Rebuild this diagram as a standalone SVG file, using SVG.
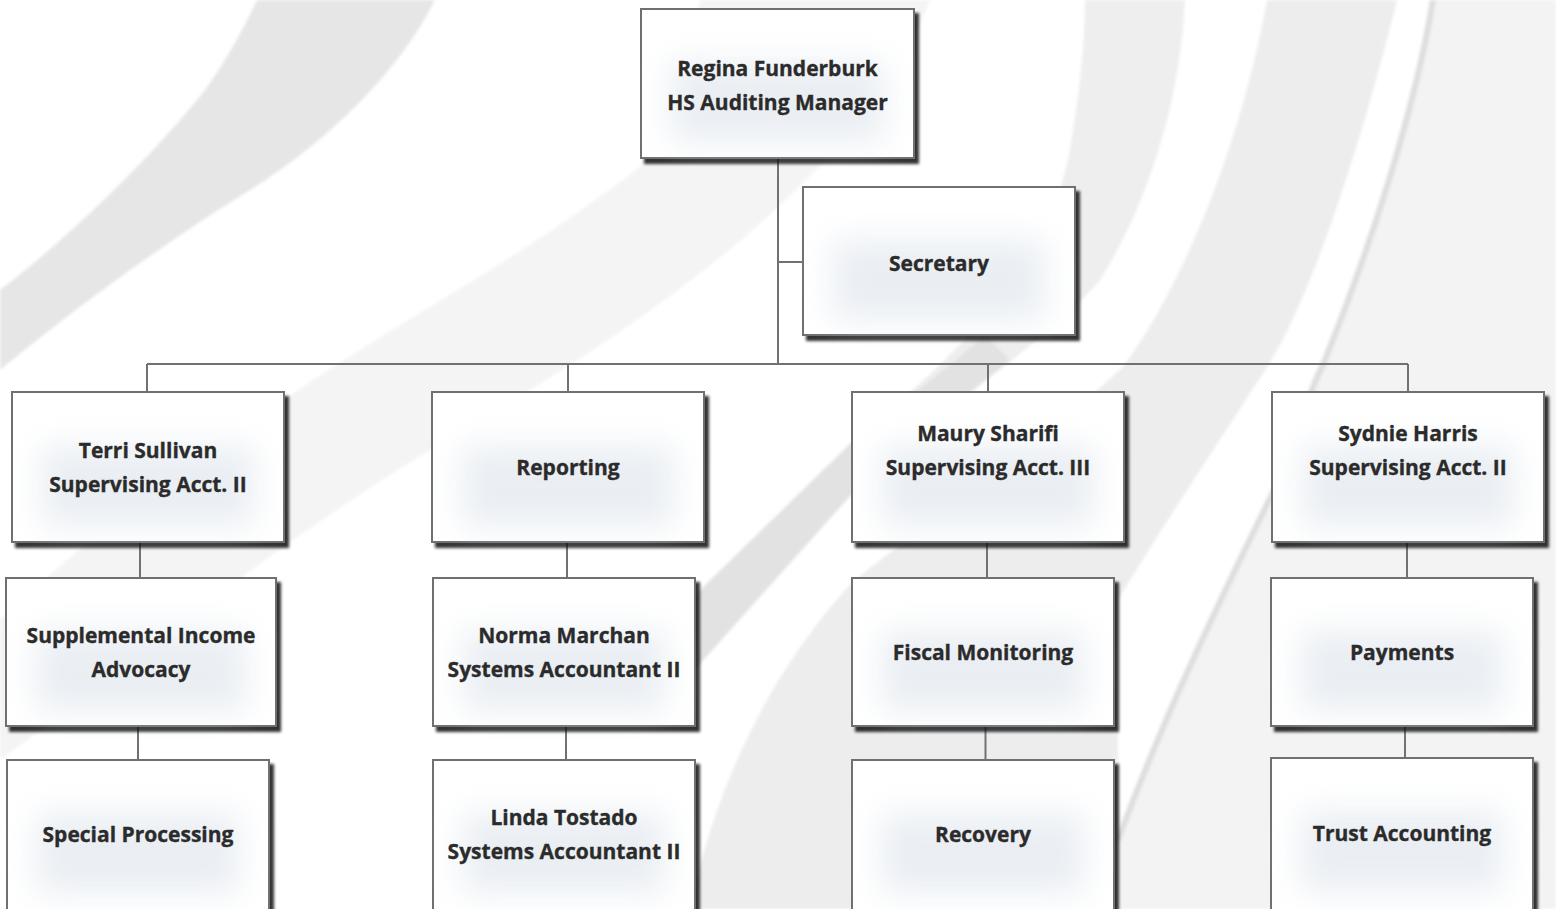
<svg xmlns="http://www.w3.org/2000/svg" width="1556" height="909" viewBox="0 0 1556 909">
<style>
.box{fill:#ffffff;stroke:#6f6f6f;stroke-width:2;filter:url(#shadow)}
.glow{fill:#dce3eb;opacity:0.6;filter:url(#blur)}
.lbl{font-family:"Open Sans","Noto Sans","DejaVu Sans",sans-serif;font-weight:bold;font-size:21px;fill:#2b2b2b;stroke:#2b2b2b;stroke-width:0.35;text-anchor:middle}
.conn{stroke:#717171;stroke-width:2;fill:none}
</style>
<defs>
<filter id="shadow" x="-10%" y="-10%" width="125%" height="125%">
<feDropShadow dx="4" dy="5" stdDeviation="1.8" flood-color="#000000" flood-opacity="0.8"/>
</filter>
<filter id="blur" x="-50%" y="-50%" width="200%" height="200%">
<feGaussianBlur stdDeviation="16"/>
</filter>
<filter id="soft" x="-10%" y="-10%" width="120%" height="120%">
<feGaussianBlur stdDeviation="1.5"/>
</filter>
</defs>
<rect x="0" y="0" width="1556" height="909" fill="#ffffff"/>
<g id="background" filter="url(#soft)">
<path d="M1433,0 L1556,0 L1556,909 L1060,909 L1118,840 C1170,700 1230,580 1280,478 C1300,420 1315,380 1322,367 C1370,250 1415,110 1433,0 Z" fill="#f3f3f3"/>
<path d="M1267,0 L1397,0 C1360,150 1310,300 1267,367 C1220,440 1160,530 1118,600 L1118,840 L1060,909 L690,909 C720,760 790,650 850,585 C900,540 1000,480 1123,367 C1180,290 1240,150 1267,0 Z" fill="#ededed"/>
<path d="M1118,840 C1170,700 1230,580 1280,478 C1300,420 1315,380 1322,367 C1370,250 1415,110 1433,0" fill="none" stroke="#dedede" stroke-width="6"/>
<path d="M700,0 L930,0 C850,200 600,350 430,450 C250,560 110,680 0,760 L0,620 C60,560 180,470 294,393 C400,320 520,260 640,167 C660,140 680,80 700,0 Z" fill="#f4f4f4"/>
<path d="M1085,0 L1185,0 C1180,100 1150,200 1100,280 C1050,340 950,400 850,496 L690,675 L690,600 L850,444 C1000,320 1050,250 1070,150 C1080,90 1085,40 1085,0 Z" fill="#eeeeee"/>
<path d="M690,675 L850,496 C900,450 960,400 1010,360 L985,335 C940,375 890,410 850,444 L690,600 Z" fill="#e2e2e2"/>
<path d="M257,0 L435,0 C400,70 330,140 250,190 C160,245 60,320 0,370 L0,290 C60,245 150,160 205,90 C230,55 245,25 257,0 Z" fill="#e6e6e6"/>
</g>
<g id="connectors" class="conn">
<path d="M778,158 V364"/>
<path d="M778,262 H803"/>
<path d="M147,364 H1408"/>
<path d="M147,364 V392"/>
<path d="M568,364 V392"/>
<path d="M988,364 V392"/>
<path d="M1408,364 V392"/>
<path d="M140,542 V578"/>
<path d="M138,726 V760"/>
<path d="M567,542 V578"/>
<path d="M566,726 V760"/>
<path d="M987,542 V578"/>
<path d="M985.5,726 V760"/>
<path d="M1407,542 V578"/>
<path d="M1405,727 V758"/>
</g>
<g id="regina">
<rect class="box" x="641" y="9" width="273" height="149"/>
<rect class="glow" x="671" y="62" width="213" height="80"/>
<text class="lbl" x="777.5" y="76">Regina Funderburk</text>
<text class="lbl" x="777.5" y="110">HS Auditing Manager</text>
</g>
<g id="secretary">
<rect class="box" x="803" y="187" width="272" height="148"/>
<rect class="glow" x="833" y="240" width="212" height="80"/>
<text class="lbl" x="939" y="271">Secretary</text>
</g>
<g id="terri">
<rect class="box" x="12" y="392" width="272" height="150"/>
<rect class="glow" x="42" y="446" width="212" height="80"/>
<text class="lbl" x="148" y="458">Terri Sullivan</text>
<text class="lbl" x="148" y="492">Supervising Acct. II</text>
</g>
<g id="reporting">
<rect class="box" x="432" y="392" width="272" height="150"/>
<rect class="glow" x="462" y="446" width="212" height="80"/>
<text class="lbl" x="568" y="475">Reporting</text>
</g>
<g id="maury">
<rect class="box" x="852" y="392" width="272" height="150"/>
<rect class="glow" x="882" y="446" width="212" height="80"/>
<text class="lbl" x="988" y="441">Maury Sharifi</text>
<text class="lbl" x="988" y="475">Supervising Acct. III</text>
</g>
<g id="sydnie">
<rect class="box" x="1272" y="392" width="272" height="150"/>
<rect class="glow" x="1302" y="446" width="212" height="80"/>
<text class="lbl" x="1408" y="441">Sydnie Harris</text>
<text class="lbl" x="1408" y="475">Supervising Acct. II</text>
</g>
<g id="supplemental">
<rect class="box" x="6" y="578" width="270" height="148"/>
<rect class="glow" x="36" y="631" width="210" height="80"/>
<text class="lbl" x="141" y="643">Supplemental Income</text>
<text class="lbl" x="141" y="677">Advocacy</text>
</g>
<g id="norma">
<rect class="box" x="433" y="578" width="262" height="148"/>
<rect class="glow" x="463" y="631" width="202" height="80"/>
<text class="lbl" x="564" y="643">Norma Marchan</text>
<text class="lbl" x="564" y="677">Systems Accountant II</text>
</g>
<g id="fiscal">
<rect class="box" x="852" y="578" width="262" height="148"/>
<rect class="glow" x="882" y="631" width="202" height="80"/>
<text class="lbl" x="983" y="660">Fiscal Monitoring</text>
</g>
<g id="payments">
<rect class="box" x="1271" y="578" width="262" height="148"/>
<rect class="glow" x="1301" y="631" width="202" height="80"/>
<text class="lbl" x="1402" y="660">Payments</text>
</g>
<g id="special">
<rect class="box" x="7" y="760" width="262" height="152"/>
<rect class="glow" x="37" y="813" width="202" height="80"/>
<text class="lbl" x="138" y="842">Special Processing</text>
</g>
<g id="linda">
<rect class="box" x="433" y="760" width="262" height="152"/>
<rect class="glow" x="463" y="813" width="202" height="80"/>
<text class="lbl" x="564" y="825">Linda Tostado</text>
<text class="lbl" x="564" y="859">Systems Accountant II</text>
</g>
<g id="recovery">
<rect class="box" x="852" y="760" width="262" height="152"/>
<rect class="glow" x="882" y="813" width="202" height="80"/>
<text class="lbl" x="983" y="842">Recovery</text>
</g>
<g id="trust">
<rect class="box" x="1271" y="758" width="262" height="154"/>
<rect class="glow" x="1301" y="811" width="202" height="80"/>
<text class="lbl" x="1402" y="841">Trust Accounting</text>
</g>
</svg>
